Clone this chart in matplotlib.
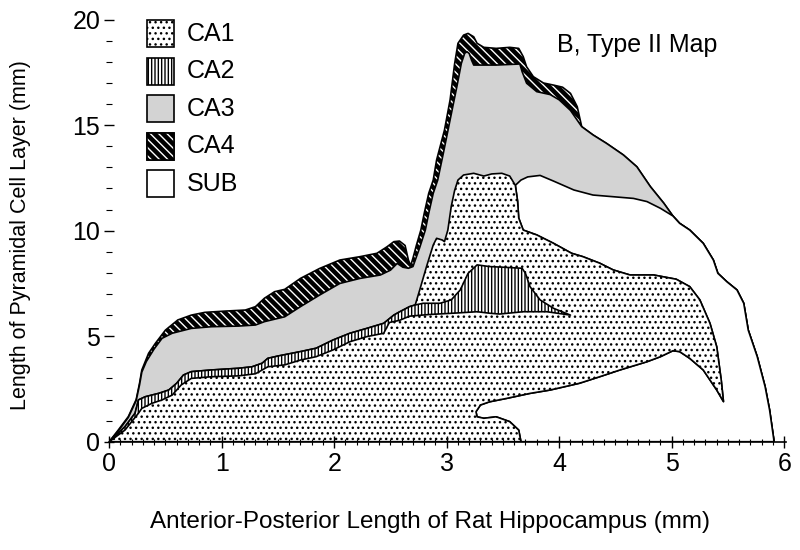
import matplotlib
matplotlib.use('Agg')
import numpy as np
import matplotlib.pyplot as plt
from matplotlib.patches import Polygon, Rectangle
from matplotlib.ticker import MultipleLocator

plt.rcParams['font.family'] = ['Liberation Sans', 'DejaVu Sans']
plt.rcParams['hatch.linewidth'] = 1.0

# boundary traces of the map (x: mm along A-P axis, y: mm of cell layer)
# outer edge over CA4
outer_ca4_x = [0, 0.08, 0.17, 0.24, 0.27, 0.29, 0.35, 0.41, 0.50, 0.61, 0.73, 0.85, 1.03, 1.21, 1.30,
               1.38, 1.47, 1.56, 1.70, 1.87, 2.05, 2.23, 2.38, 2.47, 2.53, 2.58, 2.63, 2.66, 2.68, 2.70,
               2.73, 2.77, 2.80, 2.84, 2.88, 2.91, 2.98, 3.03, 3.07, 3.10, 3.15, 3.19, 3.24, 3.27, 3.33,
               3.44, 3.56, 3.64, 3.68, 3.71, 3.77, 3.86, 3.95, 4.03, 4.10, 4.16, 4.20]
outer_ca4_y = [0, 0.55, 1.19, 2.0, 2.78, 3.40, 4.19, 4.66, 5.29, 5.77, 6.00, 6.13, 6.19, 6.24, 6.40,
               6.80, 7.11, 7.22, 7.74, 8.21, 8.61, 8.77, 8.93, 9.24, 9.48, 9.51, 9.30, 8.60, 8.35, 8.70,
               9.30, 10.03, 10.82, 11.77, 12.40, 13.35, 14.77, 16.20, 17.90, 18.88, 19.27, 19.35, 19.19, 18.88, 18.69,
               18.64, 18.69, 18.64, 18.25, 17.77, 17.30, 17.00, 16.90, 16.80, 16.51, 15.88, 14.93]
# outer edge over CA3 (right side)
outer_ca3_x = [4.20, 4.30, 4.42, 4.57, 4.69, 4.81, 4.93, 5.01]
outer_ca3_y = [14.93, 14.54, 14.14, 13.59, 13.03, 12.09, 11.30, 10.70]
# outer edge over SUB
outer_right_x = [5.01, 5.07, 5.16, 5.28, 5.37, 5.41, 5.49, 5.58, 5.64, 5.68, 5.76, 5.83, 5.87, 5.91]
outer_right_y = [10.70, 10.35, 10.03, 9.40, 8.61, 7.98, 7.58, 7.19, 6.56, 5.29, 4.03, 2.61, 1.50, 0]
# CA4 / CA3 border
ca4_inner_x = [0, 0.08, 0.17, 0.24, 0.27, 0.29, 0.33, 0.40, 0.47, 0.56, 0.73, 0.91, 1.15, 1.30, 1.38,
               1.56, 1.70, 1.87, 2.05, 2.23, 2.41, 2.50, 2.56, 2.61, 2.66, 2.70, 2.76, 2.81, 2.84, 2.88,
               2.92, 2.97, 3.03, 3.09, 3.13, 3.16, 3.18, 3.20, 3.22, 3.24, 3.44, 3.65, 3.67, 3.71, 3.80,
               3.92, 4.00, 4.10, 4.20]
ca4_inner_y = [0, 0.50, 1.15, 1.95, 2.70, 3.30, 3.80, 4.40, 4.90, 5.14, 5.37, 5.45, 5.48, 5.53, 5.69,
               5.92, 6.40, 6.95, 7.50, 7.74, 7.90, 8.13, 8.45, 8.27, 8.22, 8.30, 9.20, 10.03, 10.82, 11.77,
               12.40, 13.67, 15.25, 16.82, 17.93, 18.41, 18.48, 18.40, 18.09, 17.85, 17.85, 17.90, 17.54, 16.99, 16.59,
               16.45, 16.20, 15.70, 14.93]
# CA3 / SUB border
sub_top_x = [3.61, 3.66, 3.72, 3.83, 3.95, 4.13, 4.30, 4.48, 4.66, 4.78, 4.90, 5.01]
sub_top_y = [12.15, 12.40, 12.55, 12.62, 12.35, 11.93, 11.69, 11.61, 11.53, 11.38, 11.06, 10.70]
# CA2 / CA3 border
ca3_low_x = [0, 0.14, 0.23, 0.26, 0.32, 0.44, 0.53, 0.60, 0.66, 0.73, 0.91, 1.15, 1.27, 1.36, 1.41,
             1.50, 1.70, 1.84, 1.99, 2.14, 2.29, 2.44, 2.53, 2.58, 2.67, 2.72]
ca3_low_y = [0, 0.71, 1.35, 1.98, 2.13, 2.29, 2.45, 2.77, 3.16, 3.32, 3.40, 3.48, 3.55, 3.72, 3.95,
             4.06, 4.27, 4.43, 4.82, 5.14, 5.37, 5.61, 6.00, 6.15, 6.40, 6.48]
# CA2 hump inside CA1
ca2_hump_x = [2.79, 2.94, 3.04, 3.12, 3.19, 3.27, 3.38, 3.50, 3.67, 3.70, 3.74, 3.83, 3.95, 4.10]
ca2_hump_y = [6.56, 6.56, 6.72, 7.19, 7.98, 8.38, 8.30, 8.27, 8.22, 7.98, 7.35, 6.72, 6.32, 6.00]
# CA1 / CA2 border
ca2_bot_x = [0, 0.14, 0.26, 0.29, 0.38, 0.47, 0.56, 0.64, 0.73, 0.91, 1.15, 1.30, 1.41, 1.56, 1.70,
             1.84, 1.99, 2.14, 2.29, 2.44, 2.49, 2.58, 2.67, 2.85, 3.09, 3.27, 3.38, 3.47, 3.68, 3.89, 4.10]
ca2_bot_y = [0, 0.55, 1.35, 1.58, 1.82, 1.98, 2.21, 2.69, 3.00, 3.08, 3.12, 3.22, 3.55, 3.64, 3.87,
             4.03, 4.35, 4.74, 4.98, 5.14, 5.65, 5.75, 5.95, 6.03, 6.10, 6.16, 6.09, 6.05, 6.16, 6.16, 6.00]
# CA1 tower (left edge and top)
ca1_tower_x = [2.72, 2.76, 2.82, 2.88, 2.91, 2.96, 2.98, 3.01, 3.04, 3.07, 3.10, 3.15, 3.24, 3.33,
               3.40, 3.49, 3.56, 3.61]
ca1_tower_y = [6.48, 7.19, 8.29, 9.32, 9.64, 9.56, 9.48, 10.03, 11.14, 11.90, 12.40, 12.64, 12.72, 12.59,
               12.69, 12.72, 12.59, 12.15]
# CA1 right edge, arm and notch down to the axis
ca1_right_x = [3.61, 3.63, 3.64, 3.68, 3.80, 3.95, 4.11, 4.21, 4.36, 4.48, 4.63, 4.84, 5.04, 5.16,
               5.25, 5.34, 5.40, 5.44, 5.46, 5.40, 5.28, 5.16, 5.07, 5.01, 4.90, 4.78, 4.54, 4.36,
               4.18, 3.92, 3.74, 3.53, 3.38, 3.30, 3.26, 3.27, 3.33, 3.44, 3.56, 3.64, 3.66]
ca1_right_y = [12.15, 11.40, 10.60, 10.03, 9.80, 9.40, 8.93, 8.77, 8.46, 8.14, 7.90, 7.90, 7.70, 7.35,
               6.72, 5.61, 4.50, 2.92, 1.90, 2.45, 3.40, 3.95, 4.27, 4.31, 4.03, 3.79, 3.40, 3.08,
               2.77, 2.45, 2.29, 2.05, 1.89, 1.74, 1.42, 1.18, 1.11, 1.18, 0.95, 0.55, 0]

legend_labels = ['CA1', 'CA2', 'CA3', 'CA4', 'SUB']
gray = '#d3d3d3'
lw = 1.2
ca4_hatch = '\\\\\\\\'

fig = plt.figure(figsize=(8, 5.5), dpi=100)
ax = fig.add_axes([0.1365, 0.1969, 0.8466, 0.7673])


def poly(xs, ys, **kw):
    ax.add_patch(Polygon(np.column_stack([xs, ys]), closed=True, joinstyle='round', **kw))


# CA4: black with white diagonal stripes
xs = outer_ca4_x + outer_ca3_x + outer_right_x
ys = outer_ca4_y + outer_ca3_y + outer_right_y
poly(xs, ys, facecolor='black', edgecolor='none', linewidth=0)
poly(xs, ys, facecolor='none', edgecolor='white', hatch=ca4_hatch, linewidth=0)
poly(xs, ys, facecolor='none', edgecolor='black', linewidth=lw)

# CA3
poly(ca4_inner_x + outer_ca3_x + outer_right_x, ca4_inner_y + outer_ca3_y + outer_right_y,
     facecolor=gray, edgecolor='black', linewidth=lw)

# SUB
poly(sub_top_x + outer_right_x + ca1_right_x[::-1], sub_top_y + outer_right_y + ca1_right_y[::-1],
     facecolor='white', edgecolor='black', linewidth=lw)

# CA1
poly(ca3_low_x + ca1_tower_x + ca1_right_x, ca3_low_y + ca1_tower_y + ca1_right_y,
     facecolor='white', edgecolor='black', hatch='...', linewidth=lw)

# CA2
poly(ca2_bot_x + (ca3_low_x + ca2_hump_x)[::-1], ca2_bot_y + (ca3_low_y + ca2_hump_y)[::-1],
     facecolor='white', edgecolor='black', hatch='|||||', linewidth=lw)

# legend, drawn by hand
styles = {
    'CA1': dict(facecolor='white', hatch='...'),
    'CA2': dict(facecolor='white', hatch='|||||'),
    'CA3': dict(facecolor=gray),
    'CA4': dict(facecolor='black'),
    'SUB': dict(facecolor='white'),
}
bw, bh, step = 0.0399, 0.064, 0.0889
for i, name in enumerate(legend_labels):
    y0 = 0.935 - i * step
    ax.add_patch(Rectangle((0.0558, y0), bw, bh, transform=ax.transAxes, edgecolor='black',
                           linewidth=lw, clip_on=False, **styles[name]))
    if name == 'CA4':
        ax.add_patch(Rectangle((0.0558, y0), bw, bh, transform=ax.transAxes, facecolor='none',
                               edgecolor='white', hatch=ca4_hatch, linewidth=0, clip_on=False))
        ax.add_patch(Rectangle((0.0558, y0), bw, bh, transform=ax.transAxes, facecolor='none',
                               edgecolor='black', linewidth=lw, clip_on=False))
    ax.text(0.1144, y0 + bh / 2, name, transform=ax.transAxes, fontsize=18, va='center', ha='left')

ax.text(0.661, 0.94, 'B, Type II Map', transform=ax.transAxes, fontsize=18, va='center', ha='left')

ax.set_xlim(0, 6.02)
ax.set_ylim(0, 20)
ax.xaxis.set_major_locator(MultipleLocator(1))
ax.xaxis.set_minor_locator(MultipleLocator(0.1))
ax.yaxis.set_major_locator(MultipleLocator(5))
ax.yaxis.set_minor_locator(MultipleLocator(1))
for s in ['left', 'top', 'right']:
    ax.spines[s].set_visible(False)
ax.spines['bottom'].set_linewidth(1.2)
ax.tick_params(axis='x', which='major', direction='inout', length=9, width=1, labelsize=18, pad=3)
ax.tick_params(axis='x', which='minor', direction='inout', length=5, width=0.8)
ax.tick_params(axis='y', which='major', direction='inout', length=7, width=1, labelsize=18, pad=3)
ax.tick_params(axis='y', which='minor', direction='inout', length=4, width=0.8)

ax.set_xlabel('Anterior-Posterior Length of Rat Hippocampus (mm)', fontsize=17.5)
ax.xaxis.set_label_coords(0.474, -0.165)
ax.set_ylabel('Length of Pyramidal Cell Layer (mm)', fontsize=15.5)
ax.yaxis.set_label_coords(-0.115, 0.49)

fig.savefig('out.png', dpi=100)
